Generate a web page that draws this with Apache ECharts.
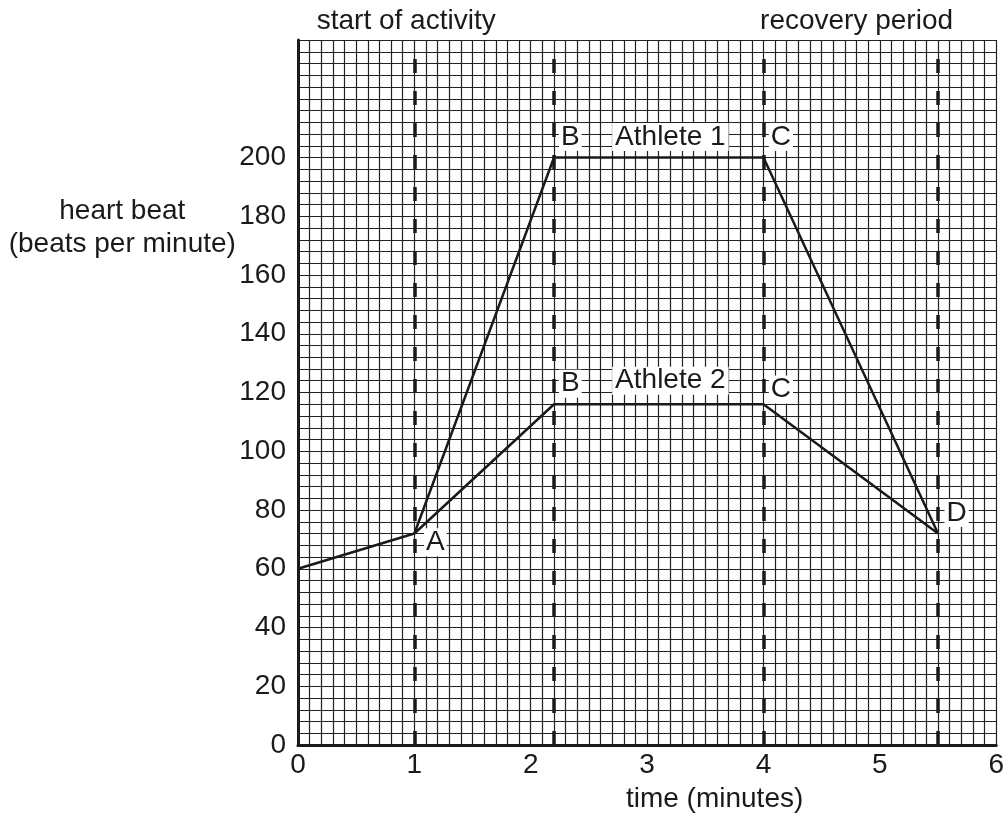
<!DOCTYPE html>
<html>
<head>
<meta charset="utf-8">
<script src="https://cdn.jsdelivr.net/npm/echarts@6/dist/echarts.min.js"></script>
<style>
  html, body { margin: 0; padding: 0; background: #fff; }
  #chart { width: 1007px; height: 821px; }
</style>
</head>
<body>
<div id="chart"></div>
<script>
// athlete curves (time in minutes, heart beat in beats per minute)
const athlete1Time = [0, 1, 2.2, 4, 5.5]
const athlete1Rate = [60, 72, 200, 200, 72]
const athlete2Time = [1, 2.2, 4, 5.5]
const athlete2Rate = [72, 116, 116, 72]

// dashed phase lines
const phaseTimes = [1, 2.2, 4, 5.5]

// point letters and captions: [time, rate, text]
const pointLabels = [
  [1.18, 69, 'A'],
  [2.34, 207, 'B'],
  [4.15, 207, 'C'],
  [2.34, 123, 'B'],
  [4.15, 121, 'C'],
  [5.66, 79, 'D']
]
const lineCaptions = [
  [3.2, 207, 'Athlete 1'],
  [3.2, 124, 'Athlete 2']
]
const topCaptions = [
  [0.93, 246.5, 'start of activity'],
  [4.8, 246.5, 'recovery period']
]

const font = 'Liberation Sans, Arial, sans-serif'
const ink = '#1a1a1a'
const gridInk = '#222'

const chart = echarts.init(document.getElementById('chart'))

const textSeries = (data, extra) => ({
  type: 'scatter',
  symbolSize: 0,
  clip: false,
  silent: true,
  z: 5,
  itemStyle: { opacity: 1 },
  data: data,
  label: Object.assign({
    show: true,
    position: 'inside',
    formatter: p => p.data[2],
    color: ink,
    fontFamily: font,
    fontSize: 28
  }, extra)
})

chart.setOption({
  animation: false,
  grid: { left: 298, right: 5, top: 40, bottom: 76 },
  xAxis: {
    type: 'value',
    min: 0,
    max: 6,
    interval: 1,
    axisLine: { show: true, onZero: false, lineStyle: { color: ink, width: 3 } },
    axisTick: { show: false },
    axisLabel: { color: ink, fontFamily: font, fontSize: 28, margin: 6 },
    splitLine: { show: true, lineStyle: { color: gridInk, width: 1.2 } },
    minorTick: { show: false, splitNumber: 10 },
    minorSplitLine: { show: true, lineStyle: { color: gridInk, width: 1.2 } }
  },
  yAxis: {
    type: 'value',
    min: 0,
    max: 240,
    interval: 20,
    axisLine: { show: true, onZero: false, lineStyle: { color: ink, width: 3 } },
    axisTick: { show: false },
    axisLabel: {
      color: ink, fontFamily: font, fontSize: 28, margin: 12,
      formatter: v => v > 200 ? '' : v
    },
    splitLine: { show: true, lineStyle: { color: gridInk, width: 1.2 } },
    minorTick: { show: false, splitNumber: 5 },
    minorSplitLine: { show: true, lineStyle: { color: gridInk, width: 1.2 } }
  },
  series: [
    {
      name: 'Athlete 1',
      type: 'line',
      symbol: 'none',
      z: 3,
      lineStyle: { color: ink, width: 2.5 },
      data: athlete1Time.map((t, i) => [t, athlete1Rate[i]]),
      markLine: {
        silent: true,
        symbol: 'none',
        label: { show: false },
        lineStyle: { color: ink, width: 3.5, type: [14, 18] },
        data: phaseTimes.map(t => ({ xAxis: t }))
      }
    },
    {
      name: 'Athlete 2',
      type: 'line',
      symbol: 'none',
      z: 3,
      lineStyle: { color: ink, width: 2.5 },
      data: athlete2Time.map((t, i) => [t, athlete2Rate[i]])
    },
    textSeries(pointLabels, { backgroundColor: '#fff', padding: [0, 2] }),
    textSeries(lineCaptions, { backgroundColor: '#fff', padding: [0, 3] }),
    textSeries(topCaptions, {}),
    textSeries([[3.58, -18.5, 'time (minutes)']], {}),
    textSeries([[-1.51, 176, 'heart beat\n(beats per minute)']], { lineHeight: 33, align: 'center' })
  ]
})
</script>
</body>
</html>
